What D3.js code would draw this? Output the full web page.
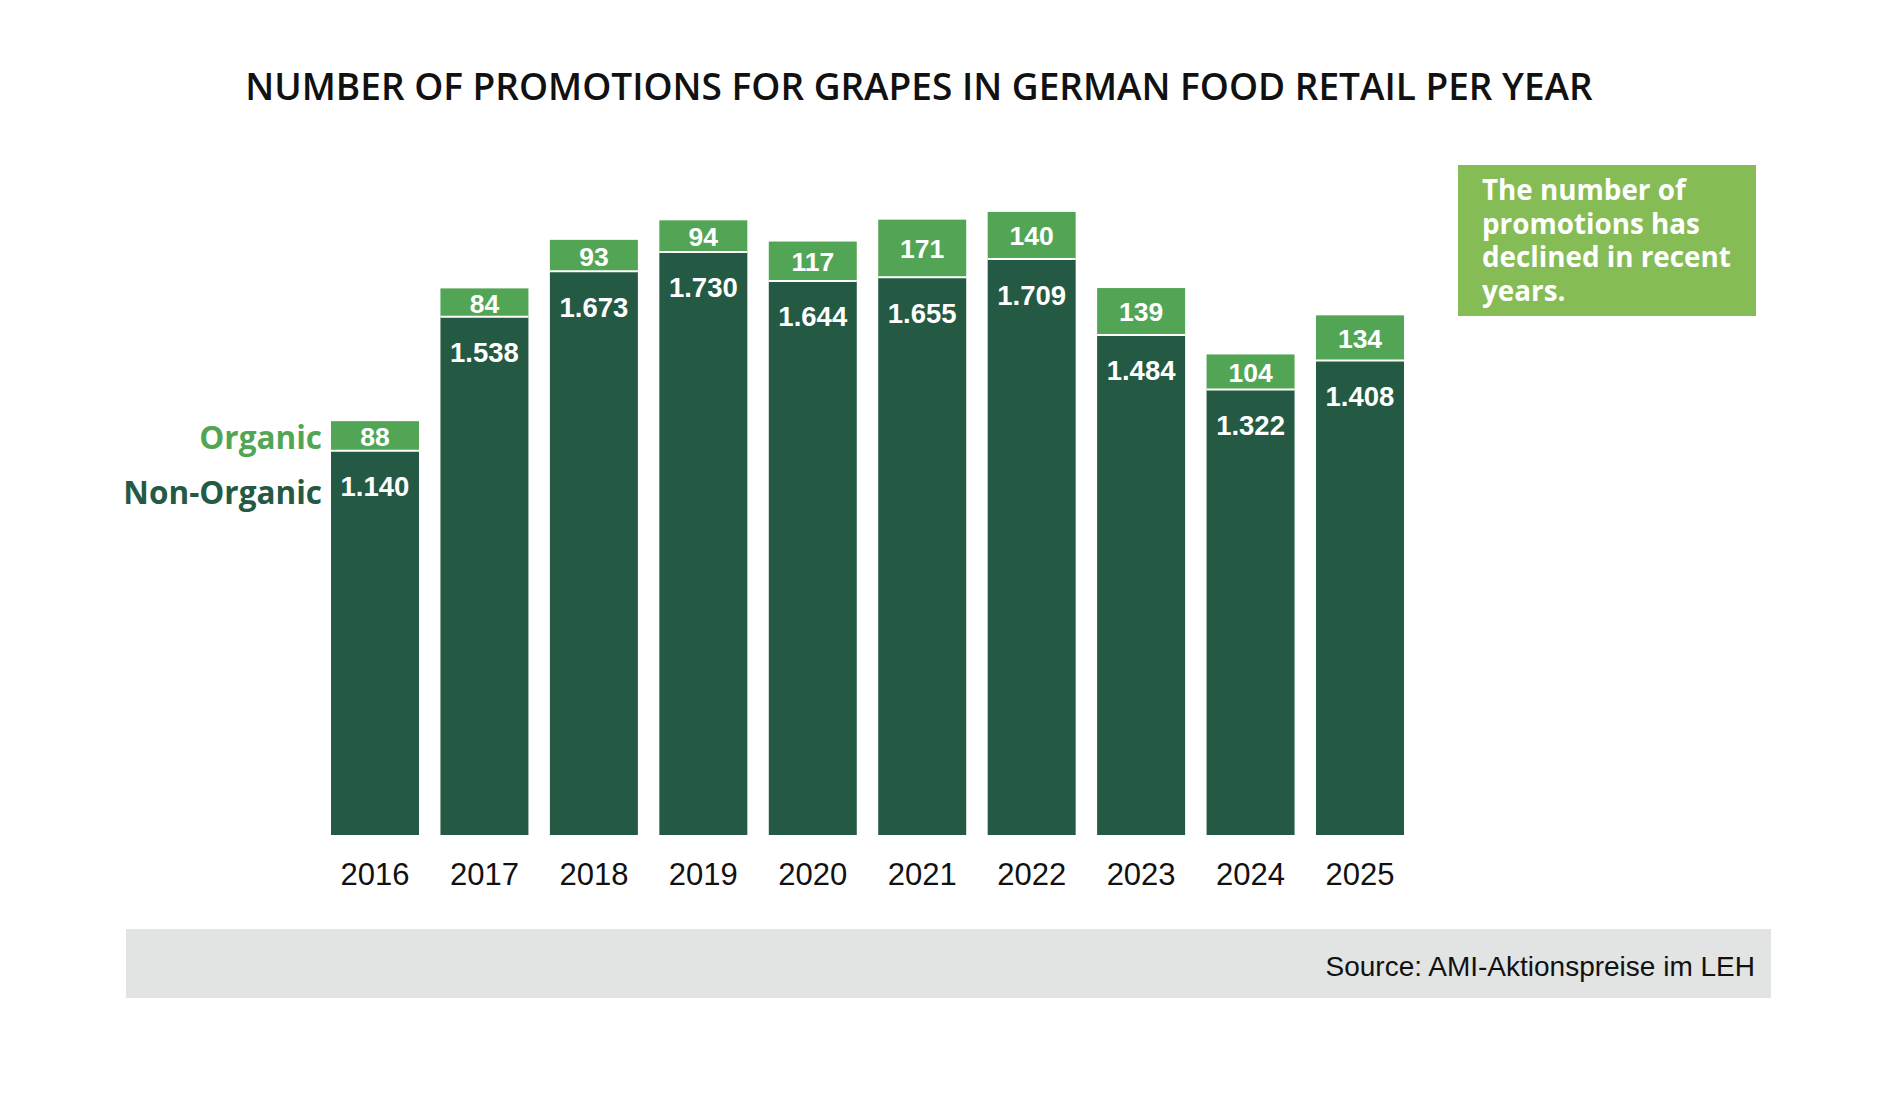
<!DOCTYPE html>
<html>
<head>
<meta charset="utf-8">
<script src="https://cdn.jsdelivr.net/npm/d3@7"></script>
<style>
  html, body { margin: 0; padding: 0; background: #fff; }
</style>
</head>
<body>
<svg id="chart" width="1900" height="1108"></svg>
<script>

  var years = ['2016', '2017', '2018', '2019', '2020', '2021', '2022', '2023', '2024', '2025'];
  var nonOrganic = [1140, 1538, 1673, 1730, 1644, 1655, 1709, 1484, 1322, 1408];
  var organic = [88, 84, 93, 94, 117, 171, 140, 139, 104, 134];
  var seriesNames = ['Organic', 'Non-Organic'];
  var noteLines = ['The number of', 'promotions has', 'declined in recent', 'years.'];

  var darkGreen = '#245a43';
  var lightGreen = '#53a556';
  var noteGreen = '#86bc56';

  var svg = d3.select('#chart');

  // German number format: 1.140
  var fmt = d3.formatLocale({ decimal: ',', thousands: '.', grouping: [3], currency: ['', '€'] }).format(',d');

  var x = d3.scaleBand()
    .domain(years)
    .range([331, 1404])
    .paddingInner(0.196)
    .paddingOuter(0);

  var y = d3.scaleLinear()
    .domain([0, 2000])
    .range([835, 161]);

  var rows = years.map(function (yr, i) {
    return { year: yr, non: nonOrganic[i], org: organic[i] };
  });

  // title
  svg.append('text')
    .attr('x', 919)
    .attr('y', 85)
    .attr('text-anchor', 'middle')
    .attr('dominant-baseline', 'central')
    .style('font-family', 'Open Sans')
    .style('font-size', '37px')
    .style('font-weight', 600)
    .attr('fill', '#111')
    .text('NUMBER OF PROMOTIONS FOR GRAPES IN GERMAN FOOD RETAIL PER YEAR');

  var bars = svg.append('g').selectAll('g.bar')
    .data(rows)
    .enter()
    .append('g')
      .attr('class', 'bar');

  bars.append('rect')
    .attr('x', function (d) { return x(d.year); })
    .attr('width', x.bandwidth())
    .attr('y', function (d) { return y(d.non); })
    .attr('height', function (d) { return y(0) - y(d.non); })
    .attr('fill', darkGreen);

  bars.append('rect')
    .attr('x', function (d) { return x(d.year); })
    .attr('width', x.bandwidth())
    .attr('y', function (d) { return y(d.non + d.org); })
    .attr('height', function (d) { return y(d.non) - y(d.non + d.org); })
    .attr('fill', lightGreen);

  // white separator between the two segments
  bars.append('line')
    .attr('x1', function (d) { return x(d.year); })
    .attr('x2', function (d) { return x(d.year) + x.bandwidth(); })
    .attr('y1', function (d) { return y(d.non); })
    .attr('y2', function (d) { return y(d.non); })
    .attr('stroke', '#fff')
    .attr('stroke-width', 2);

  bars.append('text')
    .attr('x', function (d) { return x(d.year) + x.bandwidth() / 2; })
    .attr('y', function (d) { return (y(d.non) + y(d.non + d.org)) / 2 + 1; })
    .attr('text-anchor', 'middle')
    .attr('dominant-baseline', 'central')
    .style('font-family', 'Liberation Sans')
    .style('font-size', '26.5px')
    .style('font-weight', 'bold')
    .attr('fill', '#fff')
    .text(function (d) { return fmt(d.org); });

  bars.append('text')
    .attr('x', function (d) { return x(d.year) + x.bandwidth() / 2; })
    .attr('y', function (d) { return y(d.non) + 36; })
    .attr('text-anchor', 'middle')
    .attr('dominant-baseline', 'central')
    .style('font-family', 'Liberation Sans')
    .style('font-size', '27.5px')
    .style('font-weight', 'bold')
    .attr('fill', '#fff')
    .text(function (d) { return fmt(d.non); });

  // x axis labels
  var xAxis = svg.append('g')
    .attr('transform', 'translate(0,' + y(0) + ')')
    .call(d3.axisBottom(x).tickSize(0).tickPadding(39));
  xAxis.select('.domain').remove();
  xAxis.selectAll('text')
    .attr('dy', null)
    .attr('dominant-baseline', 'central')
    .style('font-family', 'Liberation Sans')
    .style('font-size', '31px')
    .attr('fill', '#111');

  // series labels left of the first bar
  var first = rows[0];
  svg.append('text')
    .attr('x', x(first.year) - 9)
    .attr('y', (y(first.non) + y(first.non + first.org)) / 2 + 1)
    .attr('text-anchor', 'end')
    .attr('dominant-baseline', 'central')
    .style('font-family', 'Open Sans')
    .style('font-size', '31.5px')
    .style('font-weight', 'bold')
    .attr('fill', lightGreen)
    .text(seriesNames[0]);

  svg.append('text')
    .attr('x', x(first.year) - 9)
    .attr('y', y(first.non) + 41)
    .attr('text-anchor', 'end')
    .attr('dominant-baseline', 'central')
    .style('font-family', 'Open Sans')
    .style('font-size', '31.5px')
    .style('font-weight', 'bold')
    .attr('fill', darkGreen)
    .text(seriesNames[1]);

  // note box
  svg.append('rect')
    .attr('x', 1458)
    .attr('y', 165)
    .attr('width', 298)
    .attr('height', 151)
    .attr('fill', noteGreen);

  svg.append('g').selectAll('text')
    .data(noteLines)
    .enter()
    .append('text')
      .attr('x', 1482)
      .attr('y', function (d, i) { return 200 + i * 33.5; })
      .style('font-family', 'Open Sans')
      .style('font-size', '27.8px')
      .style('font-weight', 'bold')
      .attr('fill', '#fff')
      .text(function (d) { return d; });

  // source bar
  svg.append('rect')
    .attr('x', 126)
    .attr('y', 929)
    .attr('width', 1645)
    .attr('height', 69)
    .attr('fill', '#e2e3e3');

  svg.append('text')
    .attr('x', 1755)
    .attr('y', 966)
    .attr('text-anchor', 'end')
    .attr('dominant-baseline', 'central')
    .style('font-family', 'Liberation Sans')
    .style('font-size', '28px')
    .attr('fill', '#111')
    .text('Source: AMI-Aktionspreise im LEH');

</script>
</body>
</html>
